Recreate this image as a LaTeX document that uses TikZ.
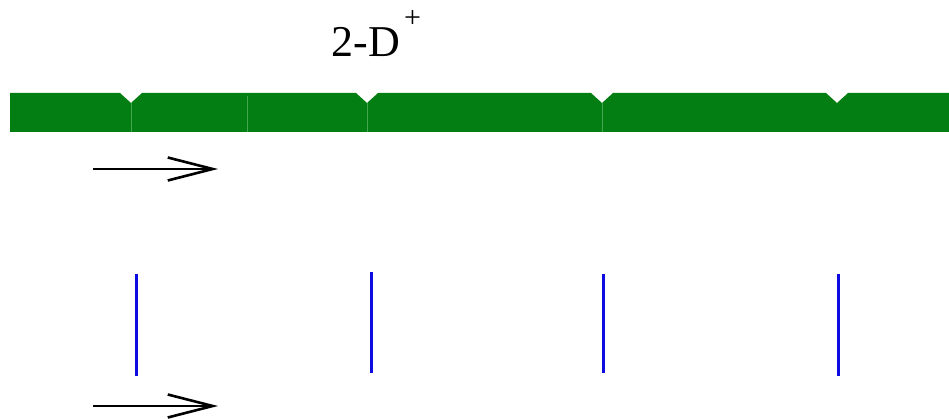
\documentclass[tikz,border=0pt]{standalone}
\usepackage{fontspec}
\setmainfont{Liberation Serif}
\usetikzlibrary{arrows.meta}
\definecolor{barg}{RGB}{2,126,18}
\definecolor{barl}{RGB}{70,165,80}
\definecolor{tickb}{RGB}{12,12,225}
\begin{document}
\begin{tikzpicture}[x=1pt,y=-1pt,
  arr/.style={line width=2.6pt,-{Straight Barb[length=45pt,width=23pt,line width=2.6pt]}},
  tickline/.style={draw=tickb,line width=2.8pt},
  seam/.style={draw=barl,line width=0.8pt}]
\useasboundingbox (0,0) rectangle (949,419);
% title
\node[inner sep=0pt,anchor=base,font=\fontsize{44}{44}\selectfont] (title) at (366,57) {2-D};
\node[inner sep=0pt,anchor=center,font=\fontsize{30}{30}\selectfont] (plus) at (412.5,19) {+};
% green bar with notches
\fill[barg] (10,93) -- (120,93) -- (131,103) -- (142,93)
  -- (356,93) -- (367,103) -- (378,93)
  -- (591,93) -- (602,103) -- (613,93)
  -- (826,93) -- (837,103) -- (848,93)
  -- (949,93) -- (949,132) -- (10,132) -- cycle;
\coordinate (s1t) at (131,103); \coordinate (s1b) at (131,132);
\coordinate (s2t) at (247.5,96); \coordinate (s2b) at (247.5,132);
\coordinate (s3t) at (367,103); \coordinate (s3b) at (367,132);
\coordinate (s4t) at (602,103); \coordinate (s4b) at (602,132);
\draw[seam] (s1t) -- (s1b);
\draw[seam] (s2t) -- (s2b);
\draw[seam] (s3t) -- (s3b);
\draw[seam] (s4t) -- (s4b);
% arrows
\coordinate (a1s) at (93,169); \coordinate (a1e) at (218,169);
\coordinate (a2s) at (93,406); \coordinate (a2e) at (218,406);
\draw[arr] (a1s) -- (a1e);
\draw[arr] (a2s) -- (a2e);
% blue ticks
\coordinate (b1t) at (136.7,274); \coordinate (b1b) at (136.7,376);
\coordinate (b2t) at (371.5,272); \coordinate (b2b) at (371.5,373);
\coordinate (b3t) at (603.3,274); \coordinate (b3b) at (603.3,373);
\coordinate (b4t) at (838.3,274); \coordinate (b4b) at (838.3,376);
\draw[tickline] (b1t) -- (b1b);
\draw[tickline] (b2t) -- (b2b);
\draw[tickline] (b3t) -- (b3b);
\draw[tickline] (b4t) -- (b4b);
\end{tikzpicture}
\end{document}
